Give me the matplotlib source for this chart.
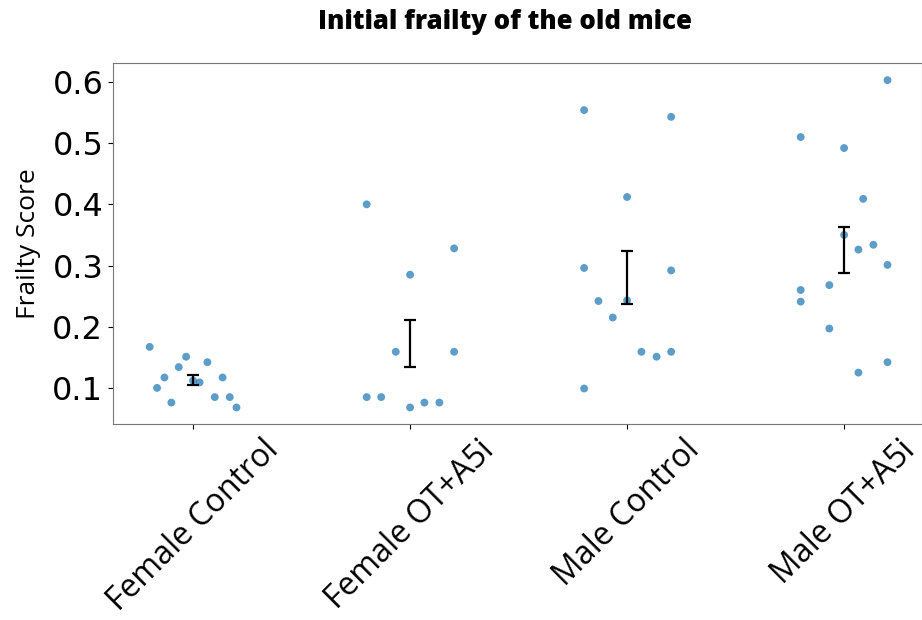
import numpy as np
import matplotlib
matplotlib.use("Agg")
import matplotlib.pyplot as plt

# Frailty score per mouse, in plotting order (jitter offsets)
groups = ["Female Control", "Female OT+A5i", "Male Control", "Male OT+A5i"]

female_control = [0.167, 0.100, 0.117, 0.076, 0.134, 0.151, 0.112, 0.109, 0.142, 0.085, 0.117, 0.085, 0.068]
female_control_jit = [-0.200, -0.166, -0.132, -0.100, -0.066, -0.032, 0.0, 0.030, 0.066, 0.100, 0.136, 0.169, 0.200]

female_ot = [0.400, 0.085, 0.085, 0.159, 0.285, 0.068, 0.076, 0.076, 0.328, 0.159]
female_ot_jit = [-0.200, -0.200, -0.133, -0.066, 0.0, 0.0, 0.066, 0.135, 0.203, 0.203]

male_control = [0.554, 0.296, 0.099, 0.242, 0.215, 0.412, 0.243, 0.159, 0.151, 0.543, 0.292, 0.159]
male_control_jit = [-0.198, -0.198, -0.198, -0.132, -0.066, 0.0, 0.0, 0.066, 0.136, 0.203, 0.203, 0.203]

male_ot = [0.510, 0.260, 0.241, 0.268, 0.197, 0.492, 0.350, 0.326, 0.125, 0.409, 0.334, 0.603, 0.301, 0.142]
male_ot_jit = [-0.200, -0.200, -0.200, -0.068, -0.068, 0.0, 0.0, 0.066, 0.066, 0.088, 0.135, 0.200, 0.200, 0.200]

values = [female_control, female_ot, male_control, male_ot]
jitters = [female_control_jit, female_ot_jit, male_control_jit, male_ot_jit]

fig = plt.figure(figsize=(9.22, 6.2), dpi=100)
ax = fig.add_axes([113 / 922, 1 - 424 / 620, 1 - 113 / 922, (424 - 63) / 620])

for i, (vals, jit) in enumerate(zip(values, jitters)):
    vals = np.array(vals)
    ax.scatter(i + np.array(jit), vals, s=32, color="#1f77b4", alpha=0.72,
               edgecolors="none", zorder=2)
    mean = vals.mean()
    sem = vals.std(ddof=1) / np.sqrt(len(vals))
    ax.errorbar(i, mean, yerr=sem, color="black", capsize=4.5, elinewidth=1.6,
                capthick=1.6, zorder=3)

ax.set_xlim(-0.369, 3.359)
ax.set_ylim(0.041, 0.631)
ax.set_xticks(range(len(groups)))
ax.set_xticklabels(groups, rotation=45, ha="center", fontsize=23,
                   family=["Open Sans", "DejaVu Sans"])
ax.set_yticks([0.1, 0.2, 0.3, 0.4, 0.5, 0.6])
ax.tick_params(axis="y", labelsize=23)
ax.set_ylabel("Frailty Score", fontsize=19, family=["Open Sans", "DejaVu Sans"],
              labelpad=8)
for sp in ax.spines.values():
    sp.set_color("#777777")

fig.text(505 / 922, 1 - 22 / 620, "Initial frailty of the old mice", ha="center",
         va="center", fontsize=18.5, fontweight="heavy",
         family=["Open Sans", "DejaVu Sans"])

fig.savefig("out.png", dpi=100)
